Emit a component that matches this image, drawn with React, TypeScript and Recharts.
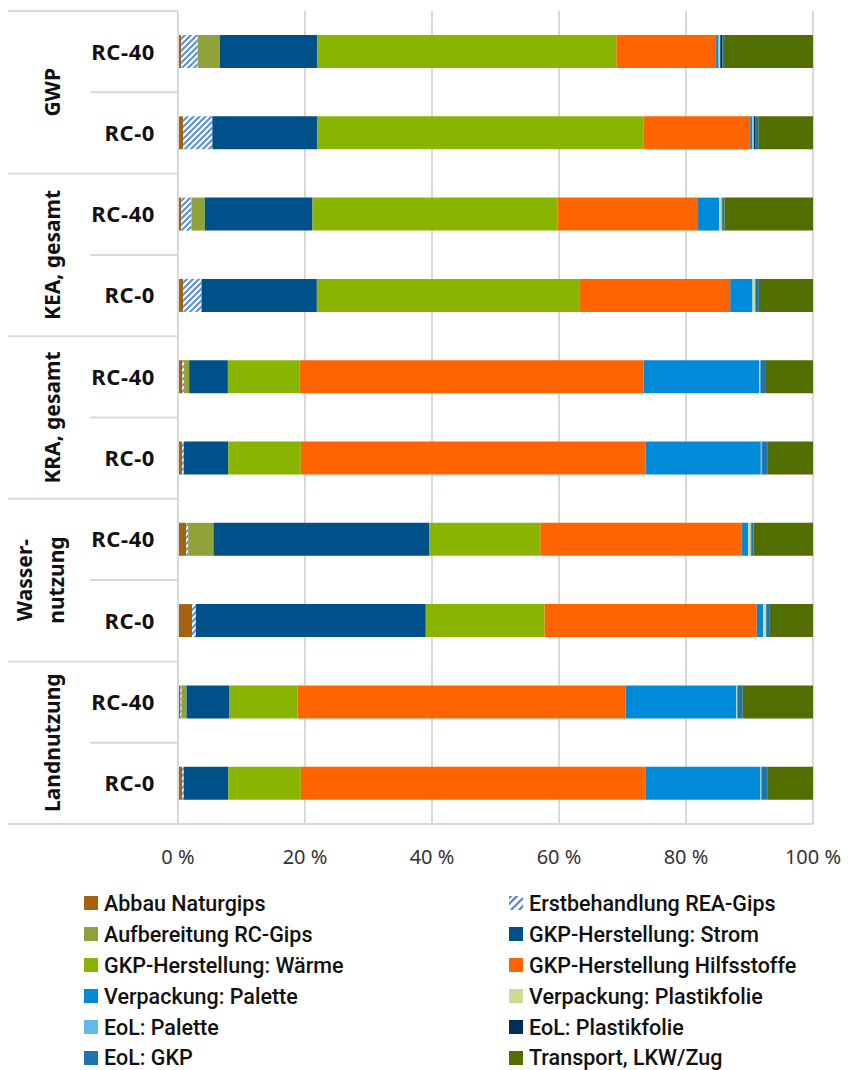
import React from 'react'
import { BarChart, Bar, XAxis, YAxis, CartesianGrid, Legend } from 'recharts'

// bar order, top to bottom
const groups = ['GWP', 'KEA, gesamt', 'KRA, gesamt', 'Wasser-\nnutzung', 'Landnutzung']
const variants = ['RC-40', 'RC-0']

// shares in % per process step, one entry per bar
const abbau = [0.5, 0.8, 0.5, 0.8, 0.7, 0.65, 1.3, 2.2, 0.4, 0.65]
const erstbehandlung = [2.6, 4.6, 1.6, 2.9, 0.25, 0.25, 0.3, 0.6, 0.15, 0.25]
const aufbereitung = [3.5, 0, 2.1, 0, 0.8, 0, 4.0, 0, 0.8, 0]
const strom = [15.3, 16.5, 16.9, 18.1, 6.1, 7.0, 34.1, 36.2, 6.7, 7.0]
const waerme = [47.1, 51.2, 38.5, 41.3, 11.3, 11.4, 17.5, 18.7, 10.8, 11.4]
const hilfsstoffe = [15.7, 16.8, 22.0, 23.6, 54.1, 54.2, 31.8, 33.4, 51.8, 54.2]
const palette = [0.4, 0.36, 3.3, 3.5, 18.2, 18.1, 1.0, 1.0, 17.5, 18.1]
const plastikfolie = [0.15, 0.15, 0.4, 0.4, 0.15, 0.1, 0.4, 0.4, 0.1, 0.1]
const eolPalette = [0.1, 0.05, 0.05, 0.05, 0.05, 0.05, 0.05, 0.05, 0.05, 0.05]
const eolPlastikfolie = [0.3, 0.2, 0.05, 0.05, 0.05, 0.05, 0.05, 0.05, 0.05, 0.05]
const eolGkp = [0.3, 0.5, 0.35, 0.5, 0.8, 0.9, 0.35, 0.45, 0.8, 0.85]
const transport = [14.0, 8.6, 13.9, 8.5, 7.4, 7.1, 9.4, 6.9, 11.1, 7.2]

const xTicks = [0, 0.2, 0.4, 0.6, 0.8, 1]

const SERIES = [
  { key: 'abbau', name: 'Abbau Naturgips', color: '#A6630F', values: abbau },
  { key: 'erst', name: 'Erstbehandlung REA-Gips', color: 'url(#hatch)', values: erstbehandlung },
  { key: 'aufb', name: 'Aufbereitung RC-Gips', color: '#8FA33A', values: aufbereitung },
  { key: 'strom', name: 'GKP-Herstellung: Strom', color: '#005089', values: strom },
  { key: 'waerme', name: 'GKP-Herstellung: Wärme', color: '#89B400', values: waerme },
  { key: 'hilfs', name: 'GKP-Herstellung Hilfsstoffe', color: '#FF6400', values: hilfsstoffe },
  { key: 'vpal', name: 'Verpackung: Palette', color: '#008AD8', values: palette },
  { key: 'vfol', name: 'Verpackung: Plastikfolie', color: '#CCDC90', values: plastikfolie },
  { key: 'epal', name: 'EoL: Palette', color: '#63B9EA', values: eolPalette },
  { key: 'efol', name: 'EoL: Plastikfolie', color: '#002E5A', values: eolPlastikfolie },
  { key: 'egkp', name: 'EoL: GKP', color: '#1E75AE', values: eolGkp },
  { key: 'trans', name: 'Transport, LKW/Zug', color: '#536E00', values: transport },
]

const rows = groups.flatMap((g, gi) =>
  variants.map((v, vi) => {
    const i = gi * variants.length + vi
    const row: Record<string, any> = { id: `${gi}-${vi}`, group: g, label: v }
    SERIES.forEach((s) => (row[s.key] = s.values[i]))
    return row
  })
)

const W = 838
const H = 1070
const M = { top: 3, right: 33, bottom: 214, left: 0 }
const Y_W = 170
const X_H = 40
const PLOT_H = H - M.top - M.bottom - X_H
const BAND = PLOT_H / rows.length
const GRID = '#D9D9D9'
const FONT = '"Noto Sans", sans-serif'
const HATCH = '#5B8ED8'

function CategoryTick(props: any) {
  const { y, payload, index } = props
  const row = rows.find((r) => r.id === payload.value)
  if (!row) return null
  const first = index % variants.length === 0
  const last = index === rows.length - 1
  const top = y - BAND / 2
  const lines = String(row.group).split('\n')
  const groupY = y + BAND / 2
  return (
    <g>
      <line x1={first ? 0 : 82} x2={Y_W} y1={top} y2={top} stroke={GRID} strokeWidth={2} />
      {last && <line x1={0} x2={Y_W} y1={y + BAND / 2} y2={y + BAND / 2} stroke={GRID} strokeWidth={2} />}
      <text
        x={147}
        y={y}
        dy="0.36em"
        textAnchor="end"
        fontFamily={FONT}
        fontWeight={700}
        fontSize={22}
        letterSpacing={0.6}
        fill="#111"
      >
        {row.label}
      </text>
      {first &&
        lines.map((t, li) => {
          const bx = lines.length === 1 ? 52 : 24 + li * 32
          return (
            <text
              key={li}
              x={bx}
              y={groupY}
              transform={`rotate(-90, ${bx}, ${groupY})`}
              textAnchor="middle"
              fontFamily={FONT}
              fontWeight={700}
              fontSize={21}
              fill="#111"
            >
              {t}
            </text>
          )
        })}
    </g>
  )
}

function Swatch({ color }: { color: string }) {
  return (
    <svg width={14} height={14} style={{ marginRight: 6, flexShrink: 0 }}>
      {color.startsWith('url') ? (
        <>
          <rect width={14} height={14} fill="#fff" />
          <path d="M-2,4 l6,-6 M-2,10 l12,-12 M2,14 l12,-12 M8,16 l8,-8" stroke={HATCH} strokeWidth={2.4} />
        </>
      ) : (
        <rect width={14} height={14} fill={color} />
      )}
    </svg>
  )
}

function LegendBlock() {
  return (
    <div
      style={{
        display: 'grid',
        gridTemplateColumns: '425px 330px',
        fontFamily: 'Roboto, sans-serif',
        fontWeight: 500,
        fontSize: 21.5,
        color: '#111',
      }}
    >
      {SERIES.map((s) => (
        <div key={s.key} style={{ display: 'flex', alignItems: 'center', height: 30.9, whiteSpace: 'nowrap' }}>
          <Swatch color={s.color} />
          <span>{s.name}</span>
        </div>
      ))}
    </div>
  )
}

export default function App() {
  return (
    <BarChart
      width={W}
      height={H}
      data={rows}
      layout="vertical"
      stackOffset="expand"
      margin={M}
      barSize={33}
    >
      <defs>
        <pattern id="hatch" patternUnits="userSpaceOnUse" width={6} height={6}>
          <rect width={6} height={6} fill="#fff" />
          <path d="M-1,1 l2,-2 M0,6 l6,-6 M5,7 l2,-2" stroke={HATCH} strokeWidth={2} />
        </pattern>
      </defs>
      <CartesianGrid horizontal={false} stroke={GRID} strokeWidth={2} />
      <XAxis
        type="number"
        domain={[0, 1]}
        ticks={xTicks}
        tickFormatter={(v: number) => `${Math.round(v * 100)} %`}
        axisLine={{ stroke: GRID, strokeWidth: 2 }}
        tickLine={false}
        tickSize={6}
        tickMargin={20}
        height={X_H}
        tick={{ fontFamily: FONT, fontSize: 20, fill: '#333' }}
      />
      <YAxis
        type="category"
        dataKey="id"
        width={Y_W}
        axisLine={{ stroke: GRID, strokeWidth: 2 }}
        tickLine={false}
        interval={0}
        tick={<CategoryTick />}
      />
      {SERIES.map((s) => (
        <Bar key={s.key} dataKey={s.key} name={s.name} stackId="a" fill={s.color} isAnimationActive={false} />
      ))}
      <Legend
        layout="horizontal"
        align="center"
        verticalAlign="middle"
        content={() => <LegendBlock />}
        wrapperStyle={{ top: 880, left: 76, width: 760, height: 186 }}
      />
    </BarChart>
  )
}
